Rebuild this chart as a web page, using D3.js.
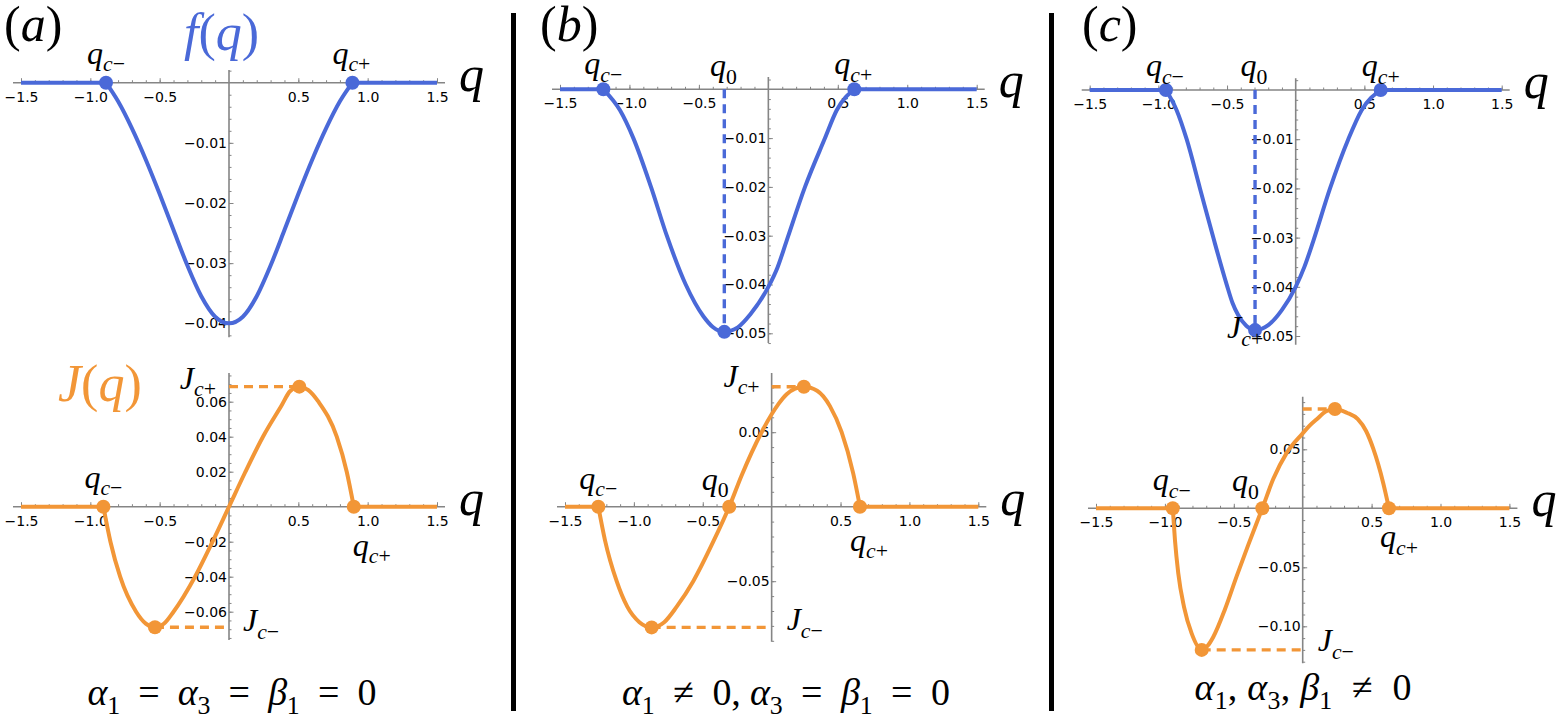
<!DOCTYPE html>
<html><head><meta charset="utf-8">
<script src="https://cdn.jsdelivr.net/npm/d3@7"></script>
<style>
body{margin:0;background:#fff}
svg{display:block}
.tick text{font-family:"DejaVu Sans","Liberation Sans",Arial,sans-serif;font-size:14px;fill:#000}
.mth{font-family:"Liberation Serif","Times New Roman",Times,serif}
</style></head><body>
<svg id="chart" width="1566" height="721"></svg>
<script>
// ---------------- DATA ----------------
const qTicks = [-1.5, -1.0, -0.5, 0.5, 1.0, 1.5];

// panel (a) top : f(q)
const fA_q = [-1.5, -0.887, -0.8, -0.7, -0.6, -0.5, -0.4, -0.3, -0.2, -0.1, 0, 0.1, 0.2, 0.3, 0.4, 0.5, 0.6, 0.7, 0.8, 0.89, 1.5];
const fA_v = [0, 0, -0.0031, -0.0076, -0.0128, -0.0185, -0.0245, -0.0304, -0.0355, -0.0389, -0.040, -0.0389, -0.0355, -0.0304, -0.0245, -0.0185, -0.0128, -0.0076, -0.0031, 0, 0];
const fA_qc = [-0.887, 0.89];
const fA_yTicks = [-0.04, -0.03, -0.02, -0.01];

// panel (a) bottom : J(q)
const jA_q = [-1.5, -0.906, -0.855, -0.785, -0.67, -0.6, -0.534, -0.47, -0.40, -0.245, -0.115, 0, 0.115, 0.245, 0.38, 0.44, 0.507, 0.57, 0.645, 0.777, 0.849, 0.90, 1.5];
const jA_v = [0, 0, -0.020, -0.040, -0.060, -0.0668, -0.0689, -0.0669, -0.060, -0.040, -0.0194, 0, 0.0194, 0.040, 0.058, 0.066, 0.0686, 0.0668, 0.060, 0.040, 0.020, 0, 0];
const jA_qc = [-0.906, 0.90];
const jA_min = [-0.534, -0.0689];
const jA_max = [0.507, 0.0686];
const jA_yTicks = [-0.06, -0.04, -0.02, 0.02, 0.04, 0.06];

// panel (b) top : f(q)
const fB_q = [-1.5, -1.188, -1.068, -0.972, -0.845, -0.731, -0.595, -0.468, -0.40, -0.317, -0.22, -0.132, 0.0, 0.066, 0.132, 0.264, 0.408, 0.492, 0.619, 1.5];
const fB_v = [0, 0, -0.0043, -0.010, -0.020, -0.030, -0.040, -0.0465, -0.0487, -0.0497, -0.0488, -0.0462, -0.0405, -0.0365, -0.031, -0.020, -0.010, -0.0043, 0, 0];
const fB_qc = [-1.188, 0.619];
const fB_min = [-0.317, -0.0497];
const fB_yTicks = [-0.05, -0.04, -0.03, -0.02, -0.01];

// panel (b) bottom : J(q)
const jB_q = [-1.5, -1.258, -1.21, -1.125, -1.048, -0.96, -0.871, -0.78, -0.689, -0.569, -0.424, -0.308, -0.218, -0.07, 0, 0.05, 0.109, 0.17, 0.234, 0.33, 0.423, 0.508, 0.592, 0.641, 1.5];
const jB_v = [0, 0, -0.0224, -0.050, -0.0671, -0.0775, -0.081, -0.0775, -0.0671, -0.050, -0.0235, 0, 0.021, 0.0505, 0.062, 0.069, 0.0755, 0.0792, 0.0805, 0.0778, 0.0675, 0.050, 0.0224, 0, 0];
const jB_qc = [-1.258, 0.641];
const jB_q0 = -0.308;
const jB_min = [-0.871, -0.081];
const jB_max = [0.234, 0.0805];
const jB_yTicks = [-0.05, 0.05];

// panel (c) top : f(q)
const fC_q = [-1.5, -0.945, -0.867, -0.794, -0.697, -0.6, -0.503, -0.46, -0.418, -0.36, -0.296, -0.2, -0.1, 0.0, 0.064, 0.128, 0.25, 0.383, 0.48, 0.619, 1.5];
const fC_v = [0, 0, -0.0041, -0.010, -0.020, -0.030, -0.0395, -0.0433, -0.0458, -0.0479, -0.0488, -0.0478, -0.0447, -0.040, -0.0359, -0.0307, -0.020, -0.010, -0.0041, 0, 0];
const fC_qc = [-0.945, 0.619];
const fC_min = [-0.296, -0.0488];
const fC_yTicks = [-0.05, -0.04, -0.03, -0.02, -0.01];

// panel (c) bottom : J(q)
const jC_q = [-1.5, -0.943, -0.927, -0.903, -0.861, -0.806, -0.733, -0.69, -0.649, -0.564, -0.479, -0.395, -0.293, -0.213, -0.116, 0, 0.05, 0.102, 0.17, 0.234, 0.32, 0.40, 0.46, 0.512, 0.585, 0.626, 1.5];
const jC_v = [0, 0, -0.0269, -0.055, -0.0837, -0.106, -0.120, -0.1165, -0.109, -0.0855, -0.0575, -0.031, 0, 0.025, 0.047, 0.0635, 0.070, 0.0755, 0.0822, 0.0842, 0.081, 0.0755, 0.0655, 0.0505, 0.0211, 0, 0];
const jC_qc = [-0.943, 0.626];
const jC_q0 = -0.293;
const jC_min = [-0.733, -0.120];
const jC_max = [0.234, 0.0842];
const jC_yTicks = [-0.10, -0.05, 0.05];

const captions = [
  [["α","i"],["1","s"],["  =  ","r"],["α","i"],["3","s"],["  =  ","r"],["β","i"],["1","s"],["  =  ","r"],["0","r"]],
  [["α","i"],["1","s"],["  ≠  0, ","r"],["α","i"],["3","s"],["  =  ","r"],["β","i"],["1","s"],["  =  ","r"],["0","r"]],
  [["α","i"],["1","s"],[", ","r"],["α","i"],["3","s"],[", ","r"],["β","i"],["1","s"],["  ≠  ","r"],["0","r"]]
];

// ---------------- STYLE / LAYOUT ----------------
const BLUE = "#4a69d8", ORANGE = "#f29637", AXIS = "#858585";
const svg = d3.select("#chart");

function rich(g, x, y, parts, size, opts = {}) {
  const t = g.append("text").attr("class", "mth").attr("x", x).attr("y", y)
    .style("font-size", size + "px")
    .attr("fill", opts.fill || "#000").attr("text-anchor", opts.anchor || "start");
  let shifted = false;
  const sh = size * 0.24;
  parts.forEach(([s, st]) => {
    const sp = t.append("tspan").text(s);
    const sub = st.startsWith("s");
    sp.style("font-style", st.endsWith("i") ? "italic" : "normal");
    if (sub) { sp.style("font-size", (size * 0.68) + "px"); if (!shifted) { sp.attr("dy", sh); shifted = true; } }
    else if (shifted) { sp.attr("dy", -sh); shifted = false; }
  });
  if (opts.width) t.attr("textLength", opts.width).attr("lengthAdjust", "spacing");
  t.style("white-space", "pre");
  return t;
}
const QCM = [["q","i"],["c","si"],["−","s"]];
const QCP = [["q","i"],["c","si"],["+","s"]];
const Q0 = [["q","i"],["0","s"]];
const JCP = [["J","i"],["c","si"],["+","s"]];
const JCM = [["J","i"],["c","si"],["−","s"]];

const panels = [
  {q: fA_q, v: fA_v, color: BLUE, xr: [21, 437], yDom: [0, -0.04], yRng: [82.7, 323.3], yExt: [0.0021, -0.0423], yTicks: fA_yTicks, yMinor: 0.002,
   pts: [[fA_qc[0], 0], [fA_qc[1], 0]], dashes: [],
   labels: [{at: [fA_qc[0], 0], dx: 0, dy: -19, a: "middle", p: QCM}, {at: [fA_qc[1], 0], dx: -1, dy: -19, a: "middle", p: QCP}]},
  {q: jA_q, v: jA_v, color: ORANGE, xr: [21, 437], yDom: [0, 0.06], yRng: [506.7, 401.7], yExt: [0.0764, -0.0762], yTicks: jA_yTicks, yMinor: 0.005,
   pts: [[jA_qc[0], 0], [jA_qc[1], 0], jA_min, jA_max],
   dashes: [[[0, jA_max[1]], jA_max], [jA_min, [0, jA_min[1]]]],
   labels: [{at: [jA_qc[0], 0], dx: 0, dy: -19, a: "middle", p: QCM}, {at: [jA_qc[1], 0], dx: 18, dy: 49, a: "middle", p: QCP},
            {at: [0, jA_max[1]], dx: -13, dy: 2, a: "end", p: JCP}, {at: [0, jA_min[1]], dx: 14, dy: 4, a: "start", p: JCM}]},
  {q: fB_q, v: fB_v, color: BLUE, xr: [560, 976.7], yDom: [0, -0.05], yRng: [89.3, 333.3], yExt: [0.0025, -0.052], yTicks: fB_yTicks, yMinor: 0.002,
   pts: [[fB_qc[0], 0], [fB_qc[1], 0], fB_min], dashes: [[[fB_min[0], 0], fB_min]],
   labels: [{at: [fB_qc[0], 0], dx: 0, dy: -15, a: "middle", p: QCM}, {at: [fB_min[0], 0], dx: -1, dy: -13, a: "middle", p: Q0}, {at: [fB_qc[1], 0], dx: -1, dy: -15, a: "middle", p: QCP}]},
  {q: jB_q, v: jB_v, color: ORANGE, xr: [565, 978.3], yDom: [0, 0.05], yRng: [506.7, 432.2], yExt: [0.0897, -0.0906], yTicks: jB_yTicks, yMinor: 0.01,
   pts: [[jB_qc[0], 0], [jB_q0, 0], [jB_qc[1], 0], jB_min, jB_max],
   dashes: [[[0, jB_max[1]], jB_max], [jB_min, [0, jB_min[1]]]],
   labels: [{at: [jB_qc[0], 0], dx: 0, dy: -18, a: "middle", p: QCM}, {at: [jB_q0, 0], dx: -14, dy: -17, a: "middle", p: Q0}, {at: [jB_qc[1], 0], dx: 9, dy: 44, a: "middle", p: QCP},
            {at: [0, jB_max[1]], dx: -12, dy: 0, a: "end", p: JCP}, {at: [0, jB_min[1]], dx: 15, dy: 3, a: "start", p: JCM}]},
  {q: fC_q, v: fC_v, color: BLUE, xr: [1089.7, 1501.7], yDom: [0, -0.05], yRng: [90, 336], yExt: [0.0024, -0.0518], yTicks: fC_yTicks, yMinor: 0.002,
   pts: [[fC_qc[0], 0], [fC_qc[1], 0], fC_min], dashes: [[[fC_min[0], 0], fC_min]],
   labels: [{at: [fC_qc[0], 0], dx: -1, dy: -14, a: "middle", p: QCM}, {at: [fC_min[0], 0], dx: -1, dy: -14, a: "middle", p: Q0}, {at: [fC_qc[1], 0], dx: 0, dy: -14, a: "middle", p: QCP},
            {at: fC_min, dx: -28, dy: 8, a: "start", p: JCP}]},
  {q: jC_q, v: jC_v, color: ORANGE, xr: [1096, 1509.4], yDom: [0, 0.05], yRng: [508.3, 449.3], yExt: [0.0946, -0.1314], yTicks: jC_yTicks, yMinor: 0.01,
   pts: [[jC_qc[0], 0], [jC_q0, 0], [jC_qc[1], 0], jC_min, jC_max],
   dashes: [[[0, jC_max[1]], jC_max], [jC_min, [0, jC_min[1]]]],
   labels: [{at: [jC_qc[0], 0], dx: -1, dy: -18, a: "middle", p: QCM}, {at: [jC_q0, 0], dx: -17, dy: -17, a: "middle", p: Q0}, {at: [jC_qc[1], 0], dx: 10, dy: 39, a: "middle", p: QCP},
            {at: [0, jC_min[1]], dx: 15, dy: 1, a: "start", p: JCM}]}
];

// ---------------- DRAW ----------------
const qMinor = d3.range(-15, 16).map(i => i / 10).filter(v => Math.abs(v) > 1e-9);

panels.forEach(P => {
  const g = svg.append("g");
  const x = d3.scaleLinear().domain([-1.5, 1.5]).range(P.xr);
  const y = d3.scaleLinear().domain(P.yDom).range(P.yRng);
  const y0 = y(0), x0 = x(0);

  g.append("line").attr("x1", P.xr[0] - 8).attr("x2", P.xr[1] + 8).attr("y1", y0).attr("y2", y0)
    .attr("stroke", AXIS).attr("stroke-width", 1.6);
  g.append("line").attr("x1", x0).attr("x2", x0).attr("y1", y(P.yExt[0])).attr("y2", y(P.yExt[1]))
    .attr("stroke", AXIS).attr("stroke-width", 1.6);

  const xMin = g.append("g").attr("transform", `translate(0,${y0})`)
    .call(d3.axisBottom(x).tickValues(qMinor).tickSizeInner(-2.5).tickSizeOuter(0).tickFormat(""));
  const xMaj = g.append("g").attr("transform", `translate(0,${y0})`)
    .call(d3.axisBottom(x).tickValues(qTicks).tickSizeInner(-4.5).tickSizeOuter(0).tickPadding(9).tickFormat(d3.format(".1f")));
  const lo = Math.min(P.yExt[0], P.yExt[1]), hi = Math.max(P.yExt[0], P.yExt[1]);
  const yMinorVals = d3.range(Math.ceil(lo / P.yMinor), Math.floor(hi / P.yMinor) + 1).map(i => i * P.yMinor).filter(v => Math.abs(v) > 1e-9);
  const yMin = g.append("g").attr("transform", `translate(${x0},0)`)
    .call(d3.axisLeft(y).tickValues(yMinorVals).tickSizeInner(-2.5).tickSizeOuter(0).tickFormat(""));
  const yMaj = g.append("g").attr("transform", `translate(${x0},0)`)
    .call(d3.axisLeft(y).tickValues(P.yTicks).tickSizeInner(-4.5).tickSizeOuter(0).tickPadding(2).tickFormat(d3.format(".2f")));
  [xMin, xMaj, yMin, yMaj].forEach(a => {
    a.select(".domain").remove();
    a.attr("font-size", null).attr("font-family", null);
    a.selectAll(".tick line").attr("stroke", AXIS).attr("stroke-width", 1);
  });

  const pts = P.q.map((q, i) => [q, P.v[i]]);
  const line = d3.line().x(d => x(d[0])).y(d => y(d[1])).curve(d3.curveMonotoneX);
  const lineL = d3.line().x(d => x(d[0])).y(d => y(d[1]));
  [[pts.slice(0, 2), lineL], [pts.slice(1, -1), line], [pts.slice(-2), lineL]].forEach(([d, ln]) =>
    g.append("path").attr("d", ln(d)).attr("fill", "none")
      .attr("stroke", P.color).attr("stroke-width", 4).attr("stroke-linejoin", "round"));

  P.dashes.forEach(([a, b]) => g.append("line")
    .attr("x1", x(a[0])).attr("y1", y(a[1])).attr("x2", x(b[0])).attr("y2", y(b[1]))
    .attr("stroke", P.color).attr("stroke-width", 3.4).attr("stroke-dasharray", "9,6"));

  g.selectAll("circle.pt").data(P.pts).join("circle").attr("class", "pt")
    .attr("cx", d => x(d[0])).attr("cy", d => y(d[1])).attr("r", 7).attr("fill", P.color);

  rich(g, P.xr[1] + 22, y0 + 8, [["q", "i"]], 50);
  P.labels.forEach(L => rich(g, x(L.at[0]) + L.dx, y(L.at[1]) + L.dy, L.p, 32, {anchor: L.a}));
});

rich(svg, 4, 41, [["(", "r"], ["a", "i"], [")", "r"]], 50);
rich(svg, 540, 41, [["(", "r"], ["b", "i"], [")", "r"]], 50);
rich(svg, 1082, 41, [["(", "r"], ["c", "i"], [")", "r"]], 50);
rich(svg, 184, 50, [["f", "i"], ["(", "r"], ["q", "i"], [")", "r"]], 52, {fill: BLUE});
rich(svg, 58, 401, [["J", "i"], ["(", "r"], ["q", "i"], [")", "r"]], 52, {fill: ORANGE});

[513.5, 1051.5].forEach(xs => svg.append("line").attr("x1", xs).attr("x2", xs).attr("y1", 13).attr("y2", 711)
  .attr("stroke", "#000").attr("stroke-width", 5));

rich(svg, 232, 705, captions[0], 38, {anchor: "middle", width: 289});
rich(svg, 786, 705, captions[1], 38, {anchor: "middle", width: 328});
rich(svg, 1303, 700, captions[2], 38, {anchor: "middle", width: 217});
</script>
</body></html>
